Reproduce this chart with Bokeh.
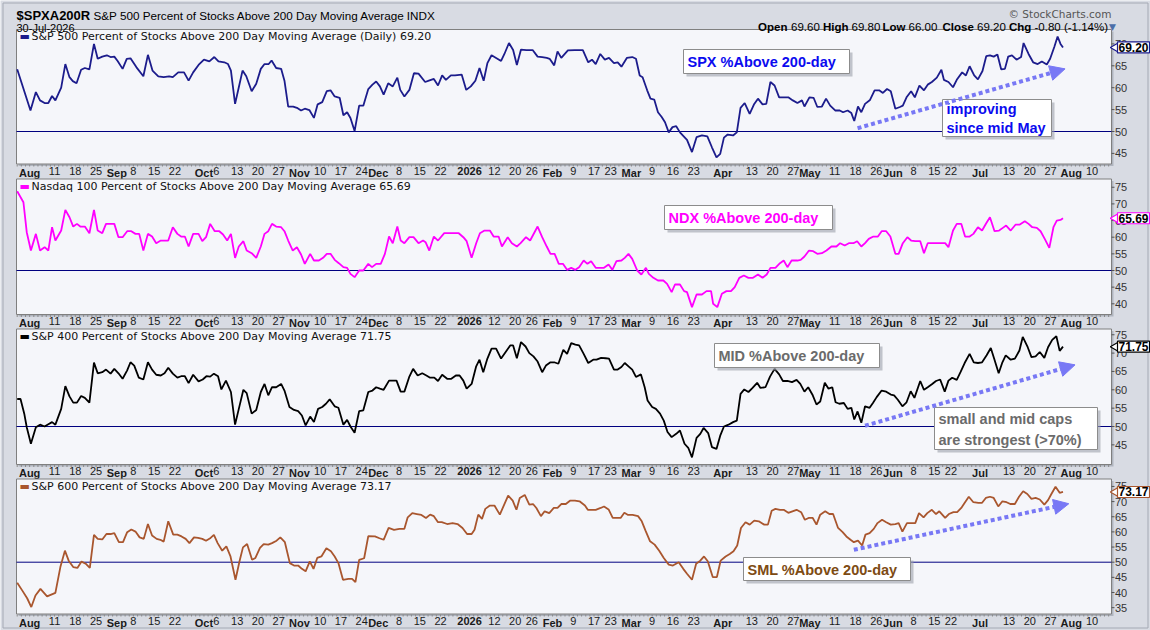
import math
import pandas as pd
from bokeh.plotting import figure
from bokeh.models import Range1d, Label, Arrow, NormalHead
from bokeh.core.properties import value
from bokeh.embed import file_html
from bokeh.resources import INLINE

# ---------------- calendar (trading days) ----------------
HOLIDAYS = ["2025-09-01", "2025-11-27", "2025-12-25", "2026-01-01", "2026-01-19",
            "2026-02-16", "2026-04-03", "2026-05-25", "2026-06-19", "2026-07-03"]
DATES = pd.bdate_range("2025-07-29", "2026-08-14", freq="C", holidays=HOLIDAYS)
DAY_OF = {d.strftime("%Y-%m-%d"): i for i, d in enumerate(DATES)}

MONTH_TICKS = {"2025-08-01": "Aug", "2025-09-02": "Sep", "2025-10-01": "Oct", "2025-11-03": "Nov",
               "2025-12-01": "Dec", "2026-01-02": "2026", "2026-02-02": "Feb", "2026-03-02": "Mar",
               "2026-04-01": "Apr", "2026-05-01": "May", "2026-06-01": "Jun", "2026-07-01": "Jul",
               "2026-08-03": "Aug"}
WEEK_TICKS = ["2025-08-11", "2025-08-18", "2025-08-25", "2025-09-08", "2025-09-15", "2025-09-22",
              "2025-10-06", "2025-10-13", "2025-10-20", "2025-10-27", "2025-11-10", "2025-11-17",
              "2025-11-24", "2025-12-08", "2025-12-15", "2025-12-22", "2026-01-12", "2026-01-20",
              "2026-01-26", "2026-02-09", "2026-02-17", "2026-02-23", "2026-03-09", "2026-03-16",
              "2026-03-23", "2026-04-13", "2026-04-20", "2026-04-27", "2026-05-11", "2026-05-18",
              "2026-05-26", "2026-06-08", "2026-06-15", "2026-06-22", "2026-07-13", "2026-07-20",
              "2026-07-27", "2026-08-10"]

# ---------------- data (trading-day position, percent) ----------------
spx_day = [0, 3.2, 4.5, 5.5, 6.6, 7.5, 8.4, 9.2, 10.6, 11.6, 12.6, 13.4, 14.3, 15.4, 16.3, 17.4, 18.5, 19.4,
           20.5, 21.6, 22.5, 23.4, 24.2, 25.4, 26.4, 27.3, 28.7, 30.4, 31.5, 32.6, 34, 35.3, 36.6, 37.5, 38.8,
           40.2, 41.3, 42.4, 43.7, 45, 46.3, 47.5, 48.5, 49.9, 50.8, 51.5, 52.5, 53.4, 54.3, 55.2, 56.5, 57.6,
           58.7, 59.6, 60.6, 61.3, 62.4, 63.6, 64.4, 65.3, 66.5, 67.4, 68.4, 69.3, 70.4, 71.5, 72.4, 73.5, 74.6,
           75.5, 76.5, 77.7, 78.6, 79.5, 80.3, 81.3, 82.4, 83.4, 84.6, 85.6, 86.5, 87.4, 88.3, 89.4, 90.5, 91.6,
           92.3, 93.3, 94.5, 95.6, 96.7, 98.3, 99.2, 100.4, 101.4, 102.4, 103.3, 104.5, 105.5, 107.1, 108.2,
           109.3, 110.4, 111.4, 112.4, 113.3, 114.3, 115.4, 116.6, 117.4, 118.5, 119.5, 120.4, 121.4, 122.7,
           124.2, 125.4, 126.5, 127.6, 128.3, 129.4, 130.2, 131.1, 132.7, 134.3, 136.3, 137.6, 138.5, 139.4,
           140.5, 141.6, 142.6, 143.8, 144.7, 145.6, 146.9, 148.2, 149.1, 150, 150.7, 151.8, 152.6, 153.5,
           154.4, 155.3, 156.1, 157, 157.9, 158.8, 159.7, 160.6, 161.4, 162.6, 163.7, 165, 166.3, 167.4, 168.5,
           169.4, 170.3, 171.2, 172.5, 173.4, 174.3, 175.3, 176.5, 177.6, 178.5, 179.6, 180.5, 181.5, 182.5,
           183.6, 184.7, 185.8, 186.9, 188, 189.1, 189.7, 190.9, 191.9, 192.8, 193.9, 194.9, 195.9, 197.1,
           198.2, 199, 200.1, 201, 201.7, 202.6, 203.4, 204.3, 205.5, 206.6, 207.7, 208.6, 209.6, 210.5,
           211.6, 212.7, 213.4, 214.3, 215.4, 216.3, 217.4, 218.5, 219.4, 220.4, 221.6, 222.7, 223.3, 224.4,
           225.5, 226.4, 227.7, 228.6, 229.5, 230.6, 231.5, 232.6, 233.5, 234.4, 235.3, 236.2, 237.1, 238,
           238.8, 239.7, 240.8, 241.9, 242.5, 243.7, 244.8, 245.9, 246.9, 248.1, 248.9, 249.9, 250.7, 251.4, 252]
spx_pct = [64.2, 54.8, 59, 57.1, 56.5, 56.5, 58.1, 57.1, 60, 65.4, 62.4, 61.5, 61, 64.1, 64.5, 64.2, 70, 66.6,
           67.1, 67.4, 67, 67.1, 66.1, 64.3, 66.6, 66.7, 64.7, 62.6, 67.5, 63.9, 62.6, 62.4, 62.6, 62.4, 63.5,
           63.5, 61.6, 63.5, 65.2, 66.4, 66, 67, 66, 65.8, 65.4, 63.9, 56.3, 60.1, 63.9, 62.6, 59.2, 60.9,
           64.3, 65.4, 65.4, 66.2, 64.5, 64.3, 61.6, 55.7, 55.7, 55.4, 54.8, 55.2, 54.9, 53.1, 56.2, 56.7, 59.2,
           59.4, 58, 57.7, 53.7, 54.4, 53.1, 50.1, 55.9, 55.9, 59.7, 60.7, 61.4, 60.3, 58.4, 61, 60.3, 62.3,
           59.5, 58, 59.5, 63.3, 63.2, 61.3, 61.6, 62, 60.5, 62.8, 61.8, 62.8, 62.8, 63, 59.5,
           60.3, 61.6, 64.5, 61.6, 65.6, 67.4, 66.8, 66.1, 67.7, 70.2, 68.6, 65.2, 68.7, 68.6,
           68.6, 67.1, 67, 66.8, 66.6, 65.1, 68.3, 66.8, 68.5, 68.6, 68.6, 65.8, 66.4, 65.4,
           67.7, 66.4, 66.8, 65.6, 65.8, 64.8, 66.8, 67, 66.6, 62.8, 62.4, 59.4, 57.5, 57.3,
           54.4, 53.3, 52.1, 49.8, 51, 51.2, 49.8, 48.9, 48.1, 45.3, 48.7, 49.1, 48.9, 46.4, 44.1,
           44.9, 48.6, 49.3, 49.1, 49.8, 55.4, 56.5, 54, 56.3, 57.5, 56.2, 56.3, 61.3, 60.5,
           57.8, 57.8, 57.8, 57.1, 56.5, 57.1, 55.7, 57.8, 57.7, 55.6, 55.7, 57.5, 55.9, 54.8,
           54.8, 54.4, 54.8, 54.2, 52.4, 55.7, 54.4, 56.3, 57.2, 59.4, 59.4, 58.8, 59.7, 59.2,
           55.2, 55.6, 55.9, 57.8, 59.2, 57.8, 60.5, 59.4, 60.7, 61.3, 62.3, 64.1, 61.8, 61.3,
           60.1, 61.8, 63.5, 62.8, 64.9, 62.8, 61.9, 63.8, 67.2, 67.4, 67.1, 67.6, 64.2, 64.3,
           67.1, 67.4, 66.4, 67, 70.2, 67.7, 65.8, 65.4, 66, 65.3, 66.6, 69.3, 71.7, 70.0, 69.2]

ndx_day = [0, 1.5, 2.3, 3.3, 4.5, 5.5, 6.6, 7.5, 8.4, 9.2, 10.6, 11.6, 12.6, 13.5, 14.4, 15.2, 16.3, 17.4,
           18.5, 19.4, 20.5, 21.4, 22.5, 23.4, 24.4, 25.4, 26.5, 27.5, 28.5, 29.4, 30.4, 31.5, 32.5, 33.5,
           34.6, 35.7, 36.4, 37.5, 38.6, 39.5, 40.4, 41.3, 42.4, 43.7, 44.6, 45.5, 46.5, 47.6, 48.7, 49.6,
           50.6, 51.5, 52.5, 53.4, 54.5, 55.3, 56.5, 57.6, 58.7, 59.6, 60.5, 61.4, 62.4, 63.6, 64.4, 65.3,
           66.4, 67.4, 68.4, 69.3, 70.6, 71.5, 72.7, 73.7, 74.6, 75.5, 76.5, 77.5, 78.6, 79.5, 80.3, 81.3,
           82.4, 83.4, 84.6, 85.5, 86.5, 87.6, 88.6, 89.6, 90.5, 91.6, 92.4, 93.3, 94.5, 95.5, 96.7, 97.8,
           98.4, 99.3, 100.4, 101.4, 102.9, 104.2, 105.5, 106.4, 107.5, 108.3, 109.5, 110.6, 111.5, 112.6,
           113.9, 114.8, 116, 116.8, 118.2, 119.2, 120.4, 121.3, 122.6, 123.6, 125.4, 126.5, 127.6, 128.5,
           129.5, 130.5, 131.5, 132.5, 133.5, 134.5, 135.4, 136.5, 137.4, 138.3, 139.4, 140.3, 141.4, 142.5,
           143.4, 144.4, 145.6, 146.4, 147.3, 148.2, 149.4, 150.4, 151.5, 152.2, 153.3, 154.4, 155.7, 156.6,
           157.7, 158.5, 159.7, 160.7, 161.4, 162.6, 163.7, 165, 166.1, 167.2, 167.7, 168.7, 169.8, 170.9,
           172, 172.9, 174, 175.1, 176.2, 177.3, 178.5, 179.6, 180.6, 181.5, 182.7, 183.8, 184.7, 185.6,
           186.6, 188, 188.8, 189.7, 190.8, 191.8, 192.8, 193.9, 195, 196.2, 197.4, 198.3, 199.4, 200.4,
           201.5, 202.4, 203.4, 204.3, 205.2, 206.3, 207.4, 208.3, 209.4, 210.4, 211.6, 212.4, 213.4, 214.5,
           215.4, 216.4, 217.6, 218.5, 219.4, 220.4, 221.6, 222.7, 223.6, 224.4, 225.5, 226.4, 227.5, 228.4,
           229.5, 230.4, 231.5, 232.5, 233.5, 234.4, 235.5, 236.6, 237.5, 238.3, 239.4, 240.6, 241.6, 242.8,
           243.7, 244.6, 245.7, 246.6, 247.6, 248.7, 249.7, 250.5, 251.4, 252]
ndx_pct = [73.8, 70.5, 61.5, 56, 61, 56, 57, 56, 63, 59, 62, 68.2, 66, 63.2, 64, 63.2, 63.2, 61.2,
           68.2, 62, 61.2, 64, 64, 64, 60, 60, 61.8, 61.8, 61, 61, 56, 61, 60.2, 58.2,
           59, 59, 59, 63, 61, 60.2, 60.2, 57.2, 61, 61, 58.8, 60, 64, 61.8, 61.8, 60.8,
           59, 61, 53.8, 57.2, 58.8, 56, 55.2, 53.8, 57.2, 61, 61.8, 64, 63.2, 63, 61.8, 59,
           56, 57, 54.8, 52, 55, 53, 53, 53.8, 55, 55, 53.2, 52.2, 51, 50.8, 49, 48,
           50, 50, 52, 51, 52, 52, 55, 60.2, 58.2, 63.2, 59, 58.2, 60, 60, 58.2, 59,
           58.5, 56, 60.2, 59, 61.2, 61.2, 61.2, 61.2, 60, 58.8, 53.8, 58.2, 61.2, 62,
           62, 60.2, 60.2, 57.2, 60, 58.2, 57.2, 58.2, 60, 59, 63.2, 60, 57.2, 55,
           55, 52, 52, 50.2, 50.8, 50.2, 51, 53, 52, 52.8, 50.8, 50.8, 50.8, 51.8,
           50.2, 52.8, 53, 53.8, 55, 53.5, 50, 48.8, 50.8, 49, 47.8, 47, 47, 46,
           43.5, 45.8, 45.8, 43.8, 43.5, 39, 42.8, 42.8, 43.8, 43.8, 40, 39, 43, 43.8,
           43.8, 45, 47.8, 48.5, 47.8, 47.8, 48.8, 47.8, 48.8, 50.8, 50.8, 52.2, 53, 51,
           53, 53, 53.2, 54.2, 56, 55.8, 55, 55.2, 56, 57.2, 57.2, 58.2, 57.5, 58.2,
           58.2, 58.8, 57.2, 58.2, 59.5, 60.2, 60.2, 61.8, 61.8, 60.2, 55, 55, 58.2, 60,
           59, 58.8, 58.8, 55.2, 58.2, 58.2, 58.2, 58.2, 58.2, 57, 62, 64, 64, 60.2,
           60.2, 61, 63, 62, 64.2, 66, 61.8, 62, 62.8, 63.5, 62, 63.8, 63.8, 64.8,
           64, 63, 62.8, 61.8, 59.5, 56.8, 63, 65, 65.2, 65.69]

mid_day = [0, 0.8, 1.7, 2.3, 3.3, 4.5, 5.5, 6.6, 7.3, 8.4, 9.2, 10.6, 11.6, 12.6, 13.5, 14.4, 15.4, 16.3,
           17.4, 18.5, 19.4, 20.5, 21.4, 22.5, 23.4, 24.4, 25.4, 26.5, 27.3, 28.2, 29.3, 30.4, 31.5, 32.5,
           33.5, 34.6, 35.5, 36.4, 37.5, 38.6, 39.5, 40.4, 41.3, 42.4, 43.7, 44.7, 45.6, 46.5, 47.4, 48.4,
           49.2, 50.3, 51.5, 52.5, 53.4, 54.5, 55.3, 56.5, 57.6, 58.7, 59.6, 60.5, 61.4, 62.4, 63.6, 64.4,
           65.6, 66.7, 67.7, 68.6, 69.5, 70.6, 71.5, 72.5, 73.5, 74.4, 75.3, 76.5, 77.4, 78.6, 79.5, 80.3,
           81.3, 82.4, 83.4, 84.6, 85.6, 86.5, 87.4, 88.3, 89.6, 90.5, 91.4, 92.4, 93.3, 94.5, 95.4, 96.5,
           97.6, 98.6, 99.5, 100.5, 101.4, 102.4, 103.6, 104.6, 105.7, 106.6, 107.5, 108.3, 109.5, 110.6,
           111.4, 112.3, 113.3, 114.3, 115.4, 116.6, 117.7, 118.8, 119.5, 120.4, 121.4, 122.5, 123.4, 124.4,
           125.4, 126.5, 127.4, 128.5, 129.4, 130.4, 131.6, 132.5, 133.5, 134.5, 135.4, 136.5, 137.6, 138.8,
           139.6, 140.7, 141.8, 142.6, 143.8, 144.7, 145.6, 146.4, 147.3, 148.2, 149.1, 150.3, 151.2, 151.9,
           153, 153.9, 154.9, 155.8, 156.7, 157.7, 158.8, 159.7, 160.8, 161.7, 162.6, 163.7, 164.6, 165.4,
           166.5, 167.4, 168.5, 169.4, 170.3, 171.4, 172.5, 173.4, 174.3, 175.2, 176.2, 177.2, 178.3, 179.1,
           180.3, 181.4, 182.5, 183.6, 184.5, 185.6, 186.7, 187.8, 188.7, 189.7, 190.6, 191.7, 192.6, 193.5,
           194.6, 195.5, 196.4, 197.2, 198.1, 199.2, 200.1, 201, 201.7, 202.5, 203.4, 204.3, 205.4, 206.2,
           207.1, 208.3, 209.4, 210.5, 211.3, 212.2, 213.3, 214.3, 215.3, 216.2, 217.6, 218.5, 219.4, 220.4,
           221.4, 222.4, 223.5, 224.4, 225.3, 226.4, 227.3, 228.3, 229.5, 230.5, 231.5, 232.5, 233.6, 234.6,
           235.4, 236.5, 237.4, 238.2, 239.4, 240.4, 241.5, 242.3, 243.5, 244.4, 245.4, 246.4, 247.5, 248.4,
           249.4, 250.4, 251.2, 252]
mid_pct = [57.5, 57.5, 53.5, 49.8, 45.3, 49.8, 50.5, 50, 50.5, 51.2, 50.5, 54.8, 61, 58.2, 56.5, 56.5, 58.3, 57.8,
           56.5, 67.4, 64.5, 64.8, 65.5, 64.4, 65.7, 64.5, 63, 65.3, 67.5, 66.6, 63.3, 62.8, 67.5, 65.5,
           64.1, 63.9, 64.5, 66, 64.4, 63.3, 63.7, 63.7, 61.8, 64.1, 62.3, 62.8, 63.7, 63.6, 64.4, 63.7,
           60.1, 62.5, 59.4, 50.5, 54.8, 60, 59.1, 53.5, 54.5, 59.4, 61.6, 58.5, 60.7, 60.7, 61.6, 59.8,
           55.3, 54.5, 54.2, 53, 50.3, 52.7, 51.2, 54.8, 55.3, 56.2, 57.4, 55.5, 55.1, 50.5, 51.8, 50,
           48.3, 54.2, 54.4, 59.4, 59.8, 60.7, 60.3, 60, 62.5, 62.5, 62.5, 59.5, 59.5, 63.6, 65.7, 63.9,
           64.5, 63.9, 63.3, 63.3, 62.4, 64.1, 63, 63, 63.9, 63.9, 62.5, 60.3, 61.6, 66.4,
           68.2, 64.8, 68.5, 71.2, 71.2, 68.5, 70.3, 72.1, 72.1, 68.6, 73, 71.8, 70, 69.1,
           67.7, 64.8, 66.6, 67.5, 67.5, 67.1, 70.9, 69.8, 72.7, 72.3, 72.1, 69.8, 67.3, 68.2,
           68.2, 68.7, 68.6, 68.5, 65.5, 65.5, 66.2, 67.3, 66.4, 65.5, 63.5, 64.2, 60.7, 57.1,
           55.3, 54.8, 53.5, 51.6, 48.5, 47.1, 48, 48.9, 45.3, 44.2, 41.6, 46.9, 48, 49.6,
           48.2, 44.4, 43.9, 47.5, 50, 50.5, 51.2, 51.6, 58.9, 60.1, 59.4, 60.5, 61.9, 60.5,
           60.7, 63.6, 65.7, 64.2, 62.4, 62.4, 62.1, 62.7, 61.6, 59.5, 60.7, 58.5, 56, 56.8,
           61.9, 60.3, 60.7, 56.6, 56.2, 56.4, 54.8, 55.1, 51.9, 54.1, 51, 55.5, 55.1, 56.4,
           58, 59.8, 59.5, 58.7, 58.5, 57.3, 55.5, 56.6, 59.6, 57.8, 62.4, 60, 60.7, 61.5,
           62.4, 62.8, 59.5, 62.5, 63.3, 62.7, 64.8, 67.3, 69.8, 67.5, 67.3, 67.5, 69.4, 71.4,
           68.5, 64.5, 67.5, 69.4, 68.2, 68.5, 70.7, 74.4, 71.6, 68.9, 69.1, 70.3, 68.7, 71.6,
           73.6, 74.6, 70.6, 71.75]

sml_day = [0, 1.2, 2.4, 3.4, 4.4, 5.6, 7.2, 9.2, 10.4, 11.5, 12.4, 13.5, 14.5, 15.5, 16.5, 17.5, 18.5, 19.4,
           20.5, 21.5, 22.5, 23.4, 24.5, 25.5, 26.5, 27.5, 28.5, 29.5, 30.5, 31.5, 32.5, 33.6, 34.5, 35.3,
           36.4, 37.6, 38.6, 39.6, 40.6, 41.5, 42.6, 43.6, 44.6, 45.5, 46.6, 47.4, 48.3, 49.4, 50.4, 51.4,
           52.6, 53.6, 54.4, 55.4, 56.6, 57.4, 58.5, 59.4, 60.5, 61.4, 62.5, 63.4, 64.5, 65.7, 66.7, 67.7,
           68.6, 69.5, 70.5, 71.4, 72.3, 73.3, 74.5, 75.6, 76.5, 77.4, 78.5, 79.8, 80.7, 81.5, 82.4, 83.6,
           84.6, 86.2, 87.3, 88.3, 89.5, 90.8, 92.1, 93.3, 94.1, 95.2, 96.3, 97.4, 98.5, 99.5, 100.4, 101.4,
           102.3, 103.6, 104.9, 106.1, 107.3, 108.4, 109.5, 110.2, 111.1, 112, 112.8, 113.9, 115, 116.3,
           117.4, 118.3, 119.4, 120.3, 121.1, 122.3, 123.4, 124.3, 125.1, 126.2, 127.1, 128.2, 129.3, 130.2,
           131.1, 132.2, 133.2, 134.4, 135.5, 136.8, 137.5, 138.3, 139.4, 140.6, 141.4, 142.5, 143.5, 144.6,
           145.4, 146.3, 147.2, 148.3, 149.6, 150.5, 151.4, 152.5, 153.6, 154.7, 155.8, 157, 158, 159.4,
           160.5, 161.4, 162.6, 163.6, 164.6, 165.5, 166.4, 167.6, 168.6, 169.5, 170.7, 171.7, 172.6, 173.5,
           174.4, 175.5, 176.5, 177.6, 178.7, 180, 180.9, 181.8, 182.7, 183.8, 184.7, 185.8, 186.8, 187.8,
           188.9, 189.8, 190.7, 191.7, 192.6, 193.5, 194.7, 195.7, 196.6, 197.8, 198.9, 199.8, 200.8, 201.6,
           202.6, 203.6, 204.4, 205.4, 206.4, 207.3, 208.4, 209.4, 210.5, 211.6, 212.4, 213.3, 214.4, 215.3,
           216.4, 217.3, 218.4, 219.3, 220.4, 221.4, 222.2, 223.6, 224.5, 225.6, 226.5, 227.6, 228.4, 229.3,
           230.4, 231.6, 232.5, 233.4, 234.4, 235.3, 236.4, 237.4, 238.4, 239.3, 240.4, 241.4, 242.4, 243.4,
           244.4, 245.4, 246.4, 247.5, 248.4, 249.2, 250.2, 251.2, 252]
sml_pct = [43.2, 40.7, 38.1, 35.2, 39, 41.2, 38.7, 39.9, 48.4, 53.8, 50.5, 48.4, 48.1, 50.2, 49.5, 48.1, 59, 57.7,
           57.5, 59.3, 59.3, 59.6, 56.6, 56.6, 59.9, 60.8, 60.1, 58.2, 57.7, 62.6, 58.8, 57.7, 57.4, 56.8,
           63.5, 59.1, 59.1, 58.5, 57.7, 56.3, 58.2, 58, 57.7, 57.1, 58, 59, 56.3, 53.8, 55.2, 51.9,
           44.2, 50.5, 54.9, 56, 50.8, 51.4, 54.7, 56, 55.8, 56.3, 57.1, 58.2, 56.6, 49.7, 48.9, 48.9,
           47.8, 47, 50.3, 47.8, 51.4, 51.9, 54.6, 53.6, 51.9, 49.7, 44.2, 44.5, 44.5, 43.4, 50.8, 51.3,
           58.6, 58.5, 57.9, 57.4, 61.3, 60.7, 61, 61, 64.8, 66.2, 65.9, 65.6, 64.6, 65.7, 65.2, 63.2,
           63.2, 62.6, 62.9, 62.6, 61.3, 59.3, 59.3, 60.7, 65.7, 64.3, 67.6, 68.7, 68.7, 65.7,
           69.2, 72, 70.3, 67.3, 71.2, 72.2, 69, 69.2, 67.9, 65.2, 66.8, 66.2, 67.9, 67.9,
           69.2, 69.2, 70.3, 70.3, 70.1, 68.7, 67.3, 67.3, 67.3, 67.9, 68.4, 67.4, 64.6, 64.6,
           64.6, 66.3, 65.6, 65.6, 65.2, 63.5, 60.4, 56.9, 55.8, 53.8, 51.4, 49.2, 48.9, 50,
           47.8, 46.2, 44.2, 49.5, 50.5, 51.9, 50.3, 45.1, 45.1, 50.5, 51.9, 52.7, 53.6, 55.5,
           61.3, 63.2, 62.4, 63.7, 63.5, 62.4, 62.4, 67, 67.6, 67.3, 67.3, 66.3, 66.8, 67.3,
           66.5, 64, 64.6, 64.6, 62.4, 65.7, 66.8, 65.9, 65.9, 61.3, 59.9, 58.5, 57.4, 56.6,
           57.1, 55.5, 59.1, 59.6, 61, 62.9, 64, 63.2, 62.4, 62.6, 62.9, 60.1, 62.9, 62.9,
           62.9, 66.2, 64.8, 66.2, 67.3, 65.9, 66.8, 64.6, 65.9, 66.5, 66.5, 68.1, 69.8, 71.6,
           69.8, 69.6, 69.6, 71.2, 71.6, 71.2, 68.4, 70.1, 69.8, 69.2, 69.2, 71.6, 73.4, 72.5,
           70.9, 71.2, 70.7, 69, 70.5, 72.5, 74.9, 72.9, 73.17]

# ---------------- layout / style (page pixels) ----------------
W, H = 1150, 630
FL, FR = 16, 1111                     # frame left / right
X0_PX, PX_PER_DAY = 16.7, 4.15        # day 0 position and day spacing
OUTER = "#d8dbe3"
PLOT_BG = "#f5f6fa"
ARROW_C = "#7878f5"
FONT = "Liberation Sans"
VFONT = "DejaVu Sans"

PANELS = [
    dict(day=spx_day, pct=spx_pct, color="#1c1c8c", top=29, bottom=163.5, y50=131.0, ppu=4.38,
         ticks=[45, 50, 55, 60, 65, 70],
         legend="S&P 500 Percent of Stocks Above 200 Day Moving Average (Daily) 69.20", last="69.20"),
    dict(day=ndx_day, pct=ndx_pct, color="#ff00ff", top=178.5, bottom=314, y50=270.0, ppu=3.33,
         ticks=[40, 45, 50, 55, 60, 65, 70, 75],
         legend="Nasdaq 100 Percent of Stocks Above 200 Day Moving Average 65.69", last="65.69"),
    dict(day=mid_day, pct=mid_pct, color="#000000", top=328.5, bottom=464, y50=426.0, ppu=3.67,
         ticks=[45, 50, 55, 60, 65, 70, 75],
         legend="S&P 400 Percent of Stocks Above 200 Day Moving Average 71.75", last="71.75"),
    dict(day=sml_day, pct=sml_pct, color="#a9562e", top=478.5, bottom=613.5, y50=561.7, ppu=3.03,
         ticks=[35, 40, 45, 50, 55, 60, 65, 70, 75],
         legend="S&P 600 Percent of Stocks Above 200 Day Moving Average 73.17", last="73.17"),
]

# text boxes: (panel, x0, y0, x1, y1, lines, color)
BOXES = [
    (0, 683, 49, 849, 73, ["SPX %Above 200-day"], "#0b0bef"),
    (0, 942, 99, 1051, 136, ["improving", "since mid May"], "#0b0bef"),
    (1, 664, 205, 832, 229, ["NDX %Above 200-day"], "#ff00ff"),
    (2, 714, 343, 879, 367, ["MID %Above 200-day"], "#6b6b6b"),
    (2, 934, 407, 1097, 449, ["small and mid caps", "are strongest (>70%)"], "#6b6b6b"),
    (3, 743, 557, 910, 580, ["SML %Above 200-day"], "#7d4b13"),
]
# trend arrows in (trading day, percent) of their panel
ARROWS = [(0, 202.5, 50.75, 252.5, 64.3), (2, 204.3, 50.2, 254.9, 66.8), (3, 201.6, 54.1, 253.4, 69.3)]

p = figure(width=W, height=H, title=None,
           x_range=Range1d(-X0_PX / PX_PER_DAY, (W - X0_PX) / PX_PER_DAY),
           y_range=Range1d(H, 0),
           x_axis_location=None, y_axis_location=None,
           toolbar_location=None, output_backend="svg", min_border=0,
           background_fill_color=OUTER, border_fill_color=OUTER, outline_line_color=None)
p.grid.visible = False
p.extra_x_ranges = {"px": Range1d(0, W)}
p.extra_y_ranges = {f"p{k}": Range1d(50 - (H - pn["y50"]) / pn["ppu"], 50 + pn["y50"] / pn["ppu"])
                    for k, pn in enumerate(PANELS)}


def txt(x, y, text, size="11px", color="#000000", bold=False, font=FONT, align="left",
        baseline="alphabetic", xr="px", yr="default", **kw):
    p.add_layout(Label(x=x, y=y, text=text, x_range_name=xr, y_range_name=yr,
                       text_font=font, text_font_size=size, text_color=color,
                       text_font_style="bold" if bold else "normal",
                       text_align=align, text_baseline=baseline, **kw))


# outer border of the chart image
p.quad(left=[2.5], right=[W - 2.5], top=[2.5], bottom=[H - 2.5], x_range_name="px",
       fill_color=None, line_color="#a4a9b4", line_width=1)

week_pos = [DAY_OF[d] for d in WEEK_TICKS]
week_lab = [str(int(d[-2:])) for d in WEEK_TICKS]
month_pos = [DAY_OF[d] for d in MONTH_TICKS]
month_lab = list(MONTH_TICKS.values())
all_days = [i for i in range(len(DATES)) if X0_PX + i * PX_PER_DAY < FR - 1]

for k, pn in enumerate(PANELS):
    yr = f"p{k}"
    t, b = pn["top"], pn["bottom"]
    # frame shadow + frame
    p.quad(left=[FL + 2], right=[FR + 2], top=[t + 2], bottom=[b + 2], x_range_name="px",
           fill_color="#b0b5bf", line_color=None)
    p.quad(left=[FL], right=[FR], top=[t], bottom=[b], x_range_name="px",
           fill_color=PLOT_BG, line_color="#7f7f7f", line_width=1)
    # daily tick marks under the frame
    p.segment(x0=all_days, x1=all_days, y0=[b + 0.5] * len(all_days), y1=[b + 2.5] * len(all_days),
              line_color="#8a8a8a", line_width=1)
    # date labels
    p.text(x=week_pos, y=[b + 2.5] * len(week_pos), text=week_lab, text_font=value(FONT),
           text_font_size="11px", text_color="#1a1a1a", text_align="center", text_baseline="top")
    p.text(x=month_pos, y=[b + 2.5] * len(month_pos), text=month_lab, text_font=value(FONT),
           text_font_size="11px", text_font_style="bold", text_color="#1a1a1a",
           text_align="center", text_baseline="top")
    # right value axis
    nt = len(pn["ticks"])
    p.segment(x0=[FR] * nt, x1=[FR + 3] * nt, y0=pn["ticks"], y1=pn["ticks"], x_range_name="px",
              y_range_name=yr, line_color="#555555", line_width=1)
    p.text(x=[FR + 3.5] * nt, y=pn["ticks"], text=[str(v) for v in pn["ticks"]], x_range_name="px",
           y_range_name=yr, text_font=value(FONT), text_font_size="11px", text_color="#333333",
           text_align="left", text_baseline="middle")
    # 50% reference line
    p.segment(x0=[FL], x1=[FR], y0=[50], y1=[50], x_range_name="px", y_range_name=yr,
              line_color="#000080", line_width=1)
    # the series
    p.line(pn["day"], pn["pct"], y_range_name=yr, line_color=pn["color"], line_width=1.8)
    # legend entry
    txt(19, t + 7, "\u25ac", size="11px", color=pn["color"], font=VFONT, baseline="middle")
    txt(31, t + 7, pn["legend"], size="11px", color="#111111", font=VFONT, baseline="middle")
    # last value tag
    p.scatter(x=[FR + 4], y=[pn["pct"][-1]], x_range_name="px", y_range_name=yr, marker="triangle",
              angle=math.pi / 2, size=9, fill_color="#ffffff", line_color=pn["color"], line_width=1.2)
    txt(FR + 6, pn["pct"][-1], pn["last"], size="12px", bold=True, yr=yr, baseline="middle",
        background_fill_color="#ffffff", border_line_color=pn["color"], border_line_width=1.2, padding=1)

# annotation boxes with drop shadow
for (k, x0, y0, x1, y1, lines, col) in BOXES:
    p.quad(left=[x0 + 3], right=[x1 + 3], top=[y0 + 3], bottom=[y1 + 3], x_range_name="px",
           fill_color="#9ca1ab", fill_alpha=0.6, line_color=None)
    p.quad(left=[x0], right=[x1], top=[y0], bottom=[y1], x_range_name="px",
           fill_color="#ffffff", line_color="#8c8c8c", line_width=1)
    n = len(lines)
    for j, line in enumerate(lines):
        yc = y0 + (y1 - y0) * (j + 0.5) / n + 0.5
        txt(x0 + 4, yc, line, size="14.5px", bold=True, color=col, baseline="middle")

for (k, a, b_, c, d) in ARROWS:
    p.add_layout(Arrow(end=NormalHead(size=15, fill_color=ARROW_C, line_color=ARROW_C),
                       x_start=a, y_start=b_, x_end=c, y_end=d, y_range_name=f"p{k}",
                       line_color=ARROW_C, line_width=4, line_dash="4 3"))

# header
txt(16, 15, "$SPXA200R", size="13px", bold=True)
txt(93, 15, "S&P 500 Percent of Stocks Above 200 Day Moving Average INDX", size="11.7px")
txt(16, 27, "30-Jul-2026", size="11px")
txt(1111, 13, "\u00a9 StockCharts.com", size="10.5px", color="#555555", font=VFONT, align="right")
HEADER_ROW = [(757.6, "Open", True), (790.5, "69.60", False), (822.5, "High", True), (851, "69.80", False),
              (882, "Low", True), (908, "66.00", False), (942, "Close", True), (976.5, "69.20", False),
              (1008.5, "Chg", True), (1034, "-0.80 (-1.14%)", False)]
for hx, t_, bold in HEADER_ROW:
    txt(hx, 26.5, t_, size="11.5px", bold=bold)
txt(1108.5, 26, "\u25bc", size="9px", color="#4b6ea8", font=VFONT)

open("out.html", "w").write(file_html(p, INLINE))
